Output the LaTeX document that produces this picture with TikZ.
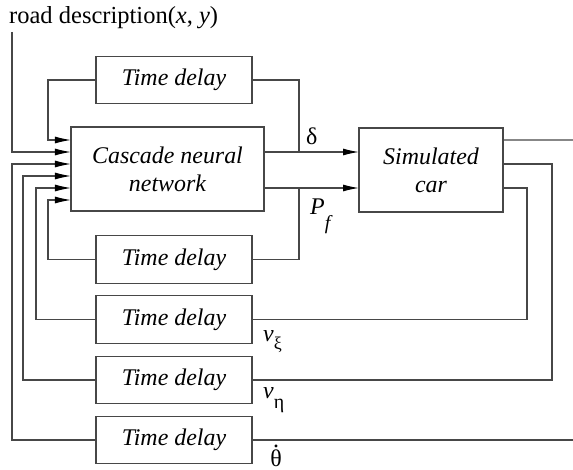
\documentclass[tikz,border=0pt]{standalone}
\usepackage{fontspec}
\setmainfont{Liberation Serif}
\usetikzlibrary{arrows.meta}
\begin{document}
\begin{tikzpicture}[x=1bp,y=-1bp,
  ln/.style={draw=black!72, line width=1.2bp},
  box/.style={ln, rectangle, inner sep=0pt, outer sep=0pt, align=center,
    font=\fontsize{24}{28}\selectfont\itshape},
  delaybox/.style={box, minimum width=156bp, minimum height=47.5bp},
  arr/.style={ln, -{Latex[length=16bp,width=7bp,color=black]}},
  lbl/.style={inner sep=0pt, font=\fontsize{24}{28}\selectfont}
]
\useasboundingbox (0,0) rectangle (573,470);

% blocks
\node[delaybox] (td0) at (174,80) {Time delay};
\node[box, minimum width=193bp, minimum height=84bp] (cnn) at (167.5,169) {Cascade neural\\network};
\node[box, minimum width=144bp, minimum height=84bp] (car) at (431,170) {Simulated\\car};
\node[delaybox] (tdA) at (174,259.5) {Time delay};
\node[delaybox] (tdB) at (174,319.5) {Time delay};
\node[delaybox] (tdC) at (174,380) {Time delay};
\node[delaybox] (tdD) at (174,440) {Time delay};

% road input label
\node[lbl, anchor=base west, font=\fontsize{24.6}{28}\selectfont] (road) at (9,24) {road description(\textit{x}, \textit{y})};
\coordinate (rd) at (12,32);

% input ports of the network
\coordinate (in1) at ([yshift=-13bp]cnn.north west);
\coordinate (in2) at ([yshift=-25bp]cnn.north west);
\coordinate (in3) at ([yshift=-37bp]cnn.north west);
\coordinate (in4) at ([yshift=-49bp]cnn.north west);
\coordinate (in5) at ([yshift=-61bp]cnn.north west);
\coordinate (in6) at ([yshift=-73bp]cnn.north west);

% output ports of the network and the car
\coordinate (o1) at ([yshift=-25bp]cnn.north east);
\coordinate (o2) at ([yshift=-61bp]cnn.north east);
\coordinate (j1) at ([xshift=35bp]o1);
\coordinate (j2) at ([xshift=35bp]o2);
\coordinate (c1) at ([yshift=-12bp]car.north east);
\coordinate (c2) at ([yshift=-36bp]car.north east);
\coordinate (c3) at ([yshift=-60bp]car.north east);
\coordinate (out1) at (573,140);
\coordinate (outD) at (573,440);

% feedback into the network
\draw[arr] (td0.west) -| ([xshift=-23bp]in1) -- (in1);
\draw[arr] (rd) |- (in2);
\draw[arr] (tdD.west) -| ([xshift=-59bp]in3) -- (in3);
\draw[arr] (tdC.west) -| ([xshift=-48bp]in4) -- (in4);
\draw[arr] (tdB.west) -| ([xshift=-35bp]in5) -- (in5);
\draw[arr] (tdA.west) -| ([xshift=-23bp]in6) -- (in6);

% network to car
\draw[arr] (o1) -- (car.west |- o1);
\draw[arr] (o2) -- (car.west |- o2);
\draw[ln] (td0.east) -| (j1);
\draw[ln] (tdA.east) -| (j2);

% car outputs
\draw[ln] (c1) -- (out1);
\draw[ln] (tdC.east) -| ([xshift=49bp]c2) -- (c2);
\draw[ln] (tdB.east) -| ([xshift=24bp]c3) -- (c3);
\draw[ln] (tdD.east) -- (outD);

% signal labels
\node[lbl, anchor=base west] (ldelta) at (306,145) {δ};
\node[lbl, anchor=base west] (lpf) at (310,215) {\textit{P}\raisebox{-15bp}{\fontsize{20}{20}\selectfont\itshape f}};
\node[lbl, anchor=base west] (lvxi) at (263,341) {\textit{v}\raisebox{-8bp}{\fontsize{18}{18}\selectfont ξ}};
\node[lbl, anchor=base west] (lveta) at (263,398) {\textit{v}\raisebox{-10bp}{\fontsize{20}{20}\selectfont η}};
\node[lbl, anchor=base] (lthd) at (276,466) {\ooalign{θ\cr\hidewidth\raisebox{0.78em}{.}\hidewidth}};
\end{tikzpicture}
\end{document}
